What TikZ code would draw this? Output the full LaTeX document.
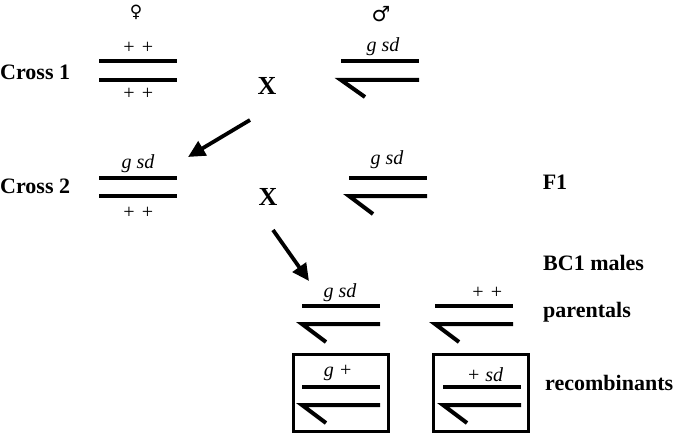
\documentclass[tikz,border=0pt]{standalone}
\usepackage{fontspec}
\setmainfont{Liberation Serif}
\newfontfamily\symfont{DejaVu Sans}
\usetikzlibrary{arrows.meta}
\begin{document}
\begin{tikzpicture}[x=1pt,y=-1pt,
  lbl/.style={font=\bfseries\fontsize{22}{24}\selectfont, inner sep=0pt},
  gen/.style={font=\itshape\fontsize{20}{22}\selectfont, inner sep=0pt},
  crossx/.style={font=\bfseries\fontsize{26}{28}\selectfont, inner sep=0pt},
  sex/.style={font=\symfont\fontsize{17}{19}\selectfont, inner sep=0pt},
  chrom/.style={line width=4pt},
  boxline/.style={line width=3pt},
  bigarrow/.style={line width=3.8pt, -{Triangle[length=17pt,width=16pt]}}]
\useasboundingbox (0,0) rectangle (680,436);
% labels
\node[lbl, anchor=west] (c1) at (0,72) {Cross 1};
\node[lbl, anchor=west] (c2) at (0,186) {Cross 2};
\node[lbl] (f1) at (555,182) {F1};
\node[lbl, anchor=west] (bc) at (543,263) {BC1 males};
\node[lbl, anchor=west] (par) at (543,312) {parentals};
\node[lbl, anchor=west] (rec) at (545,383) {recombinants};
\node[crossx] (x1) at (267,86) {X};
\node[crossx] (x2) at (268,197) {X};
\node[sex] (fem) at (136,12) {♀};
\node[sex, font=\symfont\fontsize{21}{23}\selectfont] (mal) at (381,14) {♂};
% cross 1 female
\node[gen] (g1) at (138,48) {+ +};
\draw[chrom] (99,61) -- (177,61);
\draw[chrom] (99,80) -- (177,80);
\node[gen] (g2) at (138,94) {+ +};
% cross 1 male
\node[gen] (g3) at (383,47) {g sd};
\draw[chrom] (341,61) -- (419,61);
\draw[chrom] (419,80) -- (341,80) -- (365,97);
% cross 2 female
\node[gen] (g4) at (138,164) {g sd};
\draw[chrom] (99,178) -- (177,178);
\draw[chrom] (99,196) -- (177,196);
\node[gen] (g5) at (138,213) {+ +};
% F1 male
\node[gen] (g6) at (387,160) {g sd};
\draw[chrom] (349,178) -- (427,178);
\draw[chrom] (427,196) -- (349,196) -- (373,214);
% parentals
\node[gen] (g7) at (340,293) {g sd};
\draw[chrom] (302,306) -- (380,306);
\draw[chrom] (380,324) -- (302,324) -- (326,342);
\node[gen] (g8) at (487,293) {+ +};
\draw[chrom] (435,306) -- (513,306);
\draw[chrom] (513,324) -- (435,324) -- (459,342);
% recombinants
\node[draw, boxline, minimum width=95pt, minimum height=77pt, inner sep=0pt] (b1) at (341,393) {};
\node[gen] (g9) at (338,373) {g +};
\draw[chrom] (302,387) -- (380,387);
\draw[chrom] (380,405) -- (302,405) -- (326,423);
\node[draw, boxline, minimum width=95pt, minimum height=77pt, inner sep=0pt] (b2) at (481,393) {};
\node[gen] (g10) at (485,375) {+ sd};
\draw[chrom] (443,387) -- (521,387);
\draw[chrom] (521,405) -- (443,405) -- (467,423);
% arrows
\coordinate (a1s) at (250,120);
\coordinate (a1e) at (188,157);
\coordinate (a2s) at (273,230);
\coordinate (a2e) at (309,281);
\draw[bigarrow] (a1s) -- (a1e);
\draw[bigarrow] (a2s) -- (a2e);
\end{tikzpicture}
\end{document}
